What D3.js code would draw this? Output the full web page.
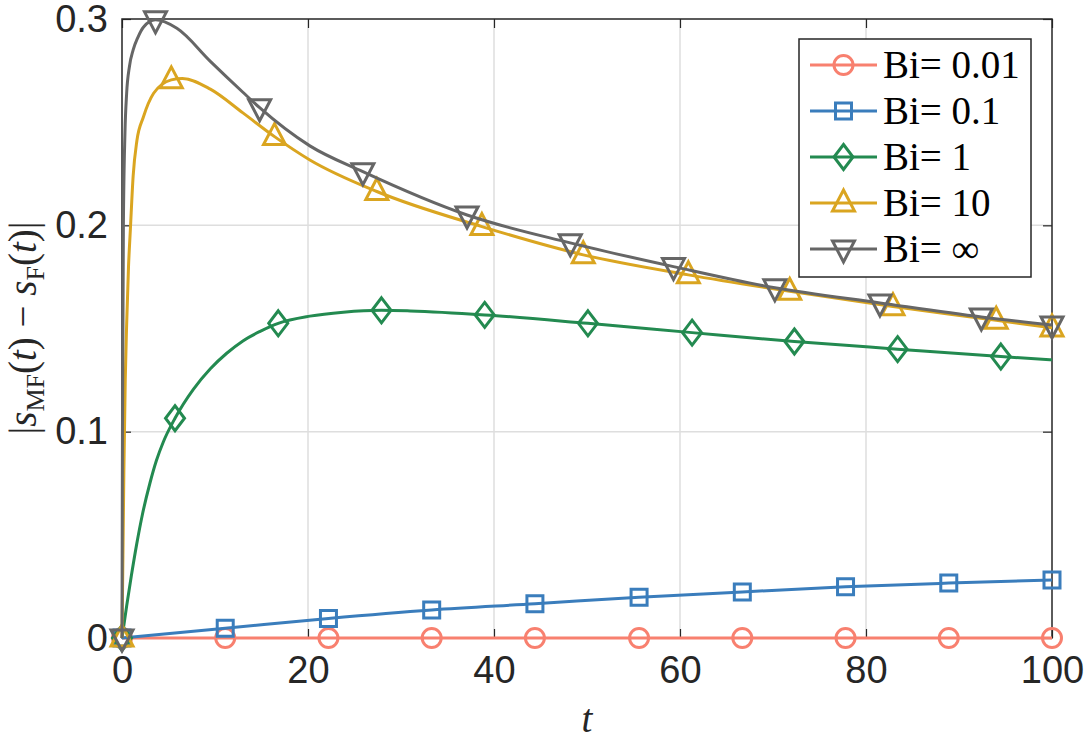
<html>
	<head>
		<style>
			body { margin: 0; background: #fff; }
			.tick text { font-family: "Liberation Sans", Arial, sans-serif; font-size: 38px; fill: #262626; }
			.tick line { stroke: #262626; stroke-width: 1.2; }
			.grid line { stroke: #dedede; stroke-width: 1.5; }
			.legend text { font-family: "Liberation Serif", "Times New Roman", serif; font-size: 39px; fill: #000; }
			.axlabel { font-family: "Liberation Serif", "Times New Roman", serif; font-size: 39px; fill: #262626; }
		</style>
		<script src="https://d3js.org/d3.v7.min.js"></script>
	</head>
	<body>
		<svg width="1086" height="742"></svg>
		<script>
			// values
			const xTicks = [0, 20, 40, 60, 80, 100];
			const yTicks = [0, 0.1, 0.2, 0.3];
			const names = ["Bi= 0.01", "Bi= 0.1", "Bi= 1", "Bi= 10", "Bi= \u221e"];
			const colors = ["#f8806f", "#3a7dbc", "#238a50", "#daa520", "#666666"];
			const shapes = ["circle", "square", "diamond", "up", "down"];

			const tRed = [0, 11.1, 22.2, 33.3, 44.4, 55.6, 66.7, 77.8, 88.9, 100];
			const vRed = [0, 0, 0, 0, 0, 0, 0, 0, 0, 0];
			const mkRed = [0, 1, 2, 3, 4, 5, 6, 7, 8, 9];

			const tBlue = [0, 11.1, 22.2, 33.3, 44.4, 55.6, 66.7, 77.8, 88.9, 100];
			const vBlue = [0, 0.0047, 0.0095, 0.0136, 0.0166, 0.0198, 0.0223, 0.0248, 0.0266, 0.0281];
			const mkBlue = [0, 1, 2, 3, 4, 5, 6, 7, 8, 9];

			const tGreen = [0, 0.5, 1, 1.58, 2.2, 3, 3.7, 4.44, 5.7, 7.67, 9.5, 11.26, 13, 14.8, 16.8, 20.2, 23.8, 27.9, 31, 39, 50.1, 61.3, 72.3, 83.4, 94.5, 100];
			const vGreen = [0, 0.0155, 0.03, 0.0455, 0.06, 0.075, 0.086, 0.095, 0.1065, 0.1205, 0.1305, 0.138, 0.144, 0.1485, 0.1525, 0.156, 0.1579, 0.1588, 0.1585, 0.1566, 0.1525, 0.148, 0.1437, 0.14, 0.1364, 0.1348];
			const mkGreen = [0, 8, 14, 17, 19, 20, 21, 22, 23, 24];

			const tYellow = [0, 0.1, 0.2, 0.35, 0.5, 0.7, 0.9, 1.2, 1.6, 2.3, 3.4, 5.3, 6.5, 9.5, 13, 16.4, 20.2, 27.4, 38.7, 49.6, 60.9, 71.8, 82.9, 94, 100];
			const vYellow = [0, 0.04, 0.08, 0.125, 0.152, 0.18, 0.198, 0.224, 0.241, 0.2525, 0.264, 0.2705, 0.2712, 0.266, 0.2545, 0.243, 0.2317, 0.2164, 0.1994, 0.1857, 0.176, 0.168, 0.1606, 0.154, 0.1503];
			const mkYellow = [0, 11, 15, 17, 18, 19, 20, 21, 22, 23, 24];

			const tGrey = [0, 0.05, 0.15, 0.32, 0.5, 0.8, 1.2, 1.7, 2.3, 3.6, 5.9, 9.5, 13, 14.8, 20.2, 25.9, 37.1, 48.2, 59.3, 70.2, 81.5, 92.4, 100];
			const vGrey = [0, 0.1, 0.2, 0.245, 0.264, 0.277, 0.285, 0.291, 0.296, 0.2996, 0.2955, 0.2795, 0.2645, 0.257, 0.2385, 0.226, 0.205, 0.1915, 0.18, 0.1697, 0.1624, 0.1556, 0.1517];
			const mkGrey = [0, 9, 13, 15, 16, 17, 18, 19, 20, 21, 22];

			const series = [
				{t: tRed, v: vRed, mk: mkRed},
				{t: tBlue, v: vBlue, mk: mkBlue},
				{t: tGreen, v: vGreen, mk: mkGreen},
				{t: tYellow, v: vYellow, mk: mkYellow},
				{t: tGrey, v: vGrey, mk: mkGrey}
			];

			const pLeft = 122, pRight = 1052, pTop = 19, pBottom = 638;
			const svg = d3.select("svg");
			const xs = d3.scaleLinear().domain([0, 100]).range([pLeft, pRight]);
			const ys = d3.scaleLinear().domain([0, 0.3]).range([pBottom, pTop]);

			// grid
			const grid = svg.append("g").attr("class", "grid");
			grid.selectAll(".gx").data(xTicks.slice(1, -1)).enter().append("line")
				.attr("x1", d => xs(d)).attr("x2", d => xs(d)).attr("y1", pTop).attr("y2", pBottom);
			grid.selectAll(".gy").data(yTicks.slice(1, -1)).enter().append("line")
				.attr("x1", pLeft).attr("x2", pRight).attr("y1", d => ys(d)).attr("y2", d => ys(d));

			// axes, ticks pointing inward
			svg.append("g").attr("transform", "translate(0," + pBottom + ")")
				.call(d3.axisBottom(xs).tickValues(xTicks).tickSize(-9).tickPadding(18).tickFormat(d3.format("d")))
				.call(g => g.select(".domain").remove());
			svg.append("g").attr("transform", "translate(0," + pTop + ")")
				.call(d3.axisTop(xs).tickValues(xTicks).tickSize(-9).tickFormat(""))
				.call(g => g.select(".domain").remove());
			svg.append("g").attr("transform", "translate(" + pLeft + ",0)")
				.call(d3.axisLeft(ys).tickValues(yTicks).tickSize(-9).tickPadding(14).tickFormat(d => d === 0 ? "0" : d3.format(".1f")(d)))
				.call(g => g.select(".domain").remove());
			svg.append("g").attr("transform", "translate(" + pRight + ",0)")
				.call(d3.axisRight(ys).tickValues(yTicks).tickSize(-9).tickFormat(""))
				.call(g => g.select(".domain").remove());

			svg.append("rect")
				.attr("x", pLeft).attr("y", pTop)
				.attr("width", pRight - pLeft).attr("height", pBottom - pTop)
				.attr("fill", "none").attr("stroke", "#262626").attr("stroke-width", 1.5);

			function markerPath(shape) {
				if (shape == "circle") return "M-9.5,0A9.5,9.5 0 1,0 9.5,0A9.5,9.5 0 1,0 -9.5,0Z";
				if (shape == "square") return "M-8,-8H8V8H-8Z";
				if (shape == "diamond") return "M0,-12.5L9.5,0L0,12.5L-9.5,0Z";
				if (shape == "up") return "M0,-13L11,8H-11Z";
				return "M0,13L11,-8H-11Z";
			}

			const line = d3.line()
				.x(d => xs(d[0]))
				.y(d => ys(d[1]))
				.curve(d3.curveMonotoneX);

			series.forEach(function(s, i) {
				const pts = s.t.map((t, j) => [t, s.v[j]]);
				const g = svg.append("g");
				g.append("path")
					.attr("d", line(pts))
					.attr("fill", "none")
					.attr("stroke", colors[i])
					.attr("stroke-width", 3);
				g.selectAll(".mk").data(s.mk.map(j => pts[j])).enter().append("path")
					.attr("transform", d => "translate(" + xs(d[0]) + "," + ys(d[1]) + ")")
					.attr("d", markerPath(shapes[i]))
					.attr("fill", "none")
					.attr("stroke", colors[i])
					.attr("stroke-width", 3);
			});

			// legend
			const legend = svg.append("g").attr("class", "legend");
			legend.append("rect")
				.attr("x", 799).attr("y", 39).attr("width", 232).attr("height", 238)
				.attr("fill", "#fff").attr("stroke", "#262626").attr("stroke-width", 1.5);
			const items = legend.selectAll(".item").data(names).enter().append("g")
				.attr("transform", (d, i) => "translate(0," + (65 + i * 46) + ")");
			items.append("line")
				.attr("x1", 810).attr("x2", 877)
				.attr("stroke", (d, i) => colors[i]).attr("stroke-width", 3);
			items.append("path")
				.attr("transform", "translate(843.5,0)")
				.attr("d", (d, i) => markerPath(shapes[i]))
				.attr("fill", "none")
				.attr("stroke", (d, i) => colors[i]).attr("stroke-width", 3);
			items.append("text")
				.attr("x", 883).attr("dy", "0.34em")
				.text(d => d);

			// axis labels
			svg.append("text").attr("class", "axlabel")
				.attr("x", xs(50)).attr("y", 732)
				.attr("text-anchor", "middle")
				.attr("font-style", "italic")
				.text("t");

			const yl = svg.append("text").attr("class", "axlabel")
				.attr("transform", "translate(36,328) rotate(-90)")
				.attr("text-anchor", "middle");
			yl.append("tspan").text("|");
			yl.append("tspan").attr("font-style", "italic").text("s");
			yl.append("tspan").attr("font-size", "26px").attr("dy", 8).text("MF");
			yl.append("tspan").attr("dy", -8).text("(");
			yl.append("tspan").attr("font-style", "italic").text("t");
			yl.append("tspan").text(") \u2212 ");
			yl.append("tspan").attr("font-style", "italic").text("s");
			yl.append("tspan").attr("font-size", "26px").attr("dy", 8).text("F");
			yl.append("tspan").attr("dy", -8).text("(");
			yl.append("tspan").attr("font-style", "italic").text("t");
			yl.append("tspan").text(")|");
		</script>
	</body>
</html>
